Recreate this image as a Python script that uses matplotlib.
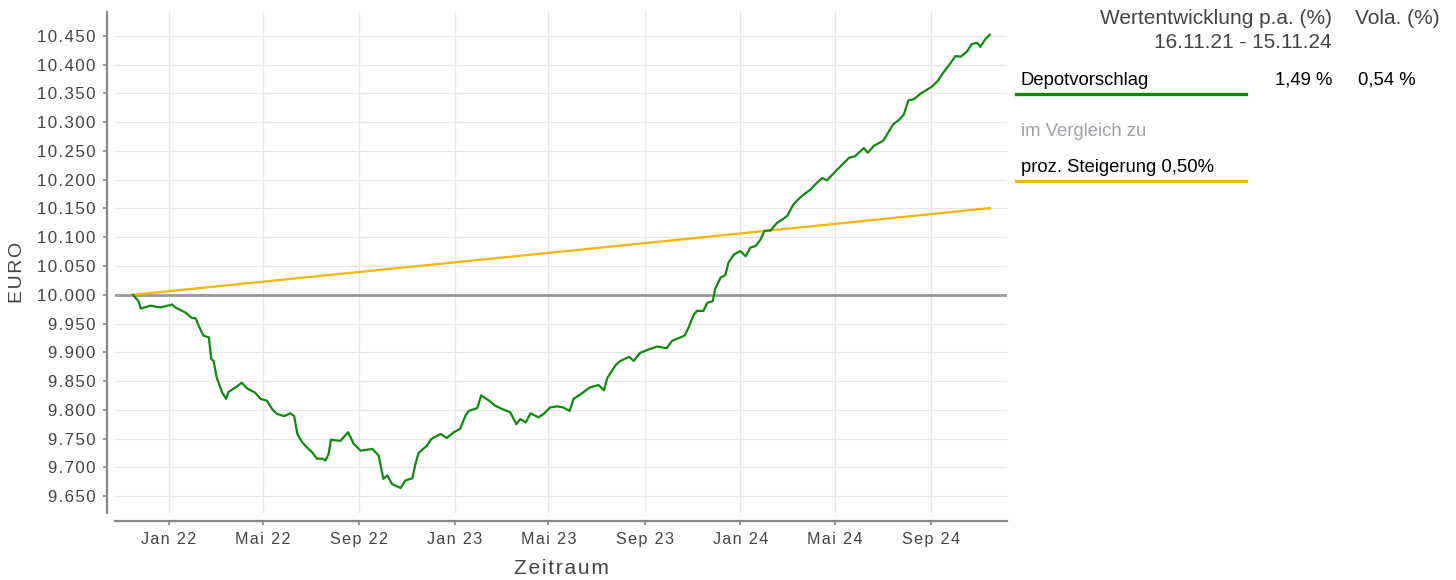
import numpy as np
import pandas as pd
import matplotlib
matplotlib.use("Agg")
import matplotlib.pyplot as plt
from matplotlib.ticker import FuncFormatter

plt.rcParams['font.family'] = ['Liberation Sans', 'DejaVu Sans']

# ---------------------------------------------------------------
# Data
# ---------------------------------------------------------------
start_date = pd.Timestamp("2021-11-16")
end_date = pd.Timestamp("2024-11-15")

# days after start date
depot_days = [0, 3, 7, 10, 22, 35, 50, 54, 67, 75, 80, 86, 90, 97, 100, 103, 107, 114,
              119, 122, 131, 139, 146, 156, 163, 171, 178, 184, 193, 201, 206, 210, 216,
              222, 229, 235, 242, 246, 250, 253, 265, 275, 282, 291, 306, 314, 320, 325,
              331, 342, 348, 357, 361, 365, 376, 381, 393, 401, 410, 418, 425, 429, 440,
              445, 455, 463, 474, 482, 490, 495, 502, 508, 518, 525, 533, 542, 550, 558,
              563, 572, 584, 595, 602, 606, 617, 623, 634, 640, 648, 659, 670, 682, 689,
              705, 710, 717, 721, 729, 734, 741, 744, 751, 757, 761, 768, 776, 783, 789,
              796, 802, 807, 815, 823, 830, 836, 844, 851, 857, 866, 872, 881, 887, 896,
              904, 915, 923, 934, 939, 947, 959, 966, 972, 979, 985, 991, 998, 1006, 1013,
              1021, 1028, 1036, 1045, 1051, 1058, 1066, 1072, 1079, 1083, 1089, 1095]
depot_values = [10.000, 9.995, 9.989, 9.976, 9.981, 9.978, 9.983, 9.978, 9.969, 9.960,
                9.959, 9.940, 9.929, 9.926, 9.888, 9.885, 9.856, 9.830, 9.819, 9.831,
                9.839, 9.847, 9.837, 9.830, 9.819, 9.816, 9.801, 9.793, 9.789, 9.794,
                9.789, 9.758, 9.744, 9.735, 9.726, 9.715, 9.715, 9.712, 9.723, 9.748,
                9.746, 9.761, 9.741, 9.729, 9.732, 9.720, 9.680, 9.686, 9.671, 9.664,
                9.677, 9.681, 9.706, 9.725, 9.738, 9.749, 9.758, 9.751, 9.761, 9.767,
                9.790, 9.798, 9.803, 9.825, 9.816, 9.807, 9.800, 9.796, 9.775, 9.784,
                9.778, 9.794, 9.787, 9.793, 9.804, 9.806, 9.804, 9.798, 9.819, 9.827,
                9.839, 9.843, 9.834, 9.855, 9.878, 9.885, 9.892, 9.885, 9.899, 9.905,
                9.910, 9.907, 9.920, 9.929, 9.943, 9.966, 9.972, 9.972, 9.986, 9.989,
                10.010, 10.030, 10.034, 10.056, 10.070, 10.076, 10.067, 10.082, 10.085,
                10.096, 10.111, 10.112, 10.125, 10.131, 10.137, 10.157, 10.167, 10.174,
                10.183, 10.192, 10.203, 10.199, 10.212, 10.223, 10.238, 10.241, 10.255,
                10.247, 10.259, 10.268, 10.284, 10.297, 10.304, 10.313, 10.338, 10.340,
                10.349, 10.355, 10.362, 10.371, 10.387, 10.403, 10.415, 10.414, 10.423,
                10.436, 10.438, 10.431, 10.444, 10.452]

start_value = 10000
bench_rate = 0.005   # proz. Steigerung 0,50% p.a.

x_tick_labels = ["Jan 22", "Mai 22", "Sep 22", "Jan 23", "Mai 23", "Sep 23",
                 "Jan 24", "Mai 24", "Sep 24"]
x_tick_dates = ["2022-01-01", "2022-05-01", "2022-09-01", "2023-01-01", "2023-05-01",
                "2023-09-01", "2024-01-01", "2024-05-01", "2024-09-01"]
y_ticks = [9.65, 9.70, 9.75, 9.80, 9.85, 9.90, 9.95, 10.00, 10.05, 10.10, 10.15,
           10.20, 10.25, 10.30, 10.35, 10.40, 10.45]

depot_dates = start_date + pd.to_timedelta(depot_days, unit="D")
depot_euro = np.array(depot_values) * 1000

bench_dates = pd.date_range(start_date, end_date, freq="D")
bench_years = (bench_dates - start_date).days / 365.25
bench_euro = start_value * (1 + bench_rate) ** bench_years

# ---------------------------------------------------------------
# Plot
# ---------------------------------------------------------------
W, H = 1456, 580
fig = plt.figure(figsize=(W / 100, H / 100), dpi=100)
ax = fig.add_axes([115 / W, 1 - 513 / H, (1007 - 115) / W, (513 - 12) / H])

GREEN = "#0f8a0f"
ORANGE = "#f7b500"
TXT = "#444444"


def spaced(s):
    return "\u200a".join(s)


ax.axhline(start_value, color="#999999", lw=2.0, zorder=2)
ax.plot(bench_dates, bench_euro, color=ORANGE, lw=1.6, zorder=3)
ax.plot(depot_dates, depot_euro, color=GREEN, lw=1.6, zorder=4)

ax.set_xlim(pd.Timestamp("2021-10-24"), pd.Timestamp("2024-12-07"))
ax.set_ylim(9620.6, 10491.6)

ax.set_yticks([v * 1000 for v in y_ticks])
ax.yaxis.set_major_formatter(FuncFormatter(
    lambda v, p: spaced(f"{v:,.0f}".replace(",", "."))))
ax.set_xticks(pd.to_datetime(x_tick_dates))
ax.set_xticklabels([spaced(t) for t in x_tick_labels])

ax.grid(True, color="#e6e6e6", lw=0.9, zorder=0)
ax.set_axisbelow(True)
for side in ["top", "right"]:
    ax.spines[side].set_visible(False)
for side in ["left", "bottom"]:
    ax.spines[side].set_color("#888888")
    ax.spines[side].set_linewidth(1.6)
    ax.spines[side].set_position(("outward", 6))

ax.tick_params(axis="both", colors="#888888", length=3, width=1.2,
               labelcolor=TXT, pad=5)
ax.tick_params(axis="y", labelsize=12.2)
ax.tick_params(axis="x", labelsize=11.6)

ax.set_ylabel(spaced("EURO"), fontsize=14, color=TXT, labelpad=8)
ax.yaxis.set_label_coords(-0.1, 0.481)
ax.set_xlabel(spaced("Zeitraum"), fontsize=15, color=TXT, labelpad=8)


# ---------------------------------------------------------------
# Legend / table on the right
# ---------------------------------------------------------------
def fx(px):
    return px / W


def fy(py):
    return 1 - py / H


fig.text(fx(1332), fy(19), "Wertentwicklung p.a. (%)", ha="right", va="center",
         fontsize=15, color=TXT)
fig.text(fx(1440), fy(19), "Vola. (%)", ha="right", va="center",
         fontsize=15, color=TXT)
fig.text(fx(1332), fy(43), "16.11.21 - 15.11.24", ha="right", va="center",
         fontsize=15, color=TXT)

fig.text(fx(1021), fy(80), "Depotvorschlag", ha="left", va="center",
         fontsize=13.3, color="black")
fig.text(fx(1332), fy(80), "1,49 %", ha="right", va="center", fontsize=13.3, color="black")
fig.text(fx(1416), fy(80), "0,54 %", ha="right", va="center", fontsize=13.3, color="black")
fig.add_artist(plt.Line2D([fx(1016), fx(1246)], [fy(94), fy(94)], color=GREEN,
                          lw=2.4, transform=fig.transFigure))

fig.text(fx(1021), fy(132), "im Vergleich zu", ha="left", va="center",
         fontsize=13.3, color="#a0a2a8")
fig.text(fx(1021), fy(167), "proz. Steigerung 0,50%", ha="left", va="center",
         fontsize=13.3, color="black")
fig.add_artist(plt.Line2D([fx(1016), fx(1246)], [fy(181), fy(181)], color=ORANGE,
                          lw=2.4, transform=fig.transFigure))

fig.savefig("out.png", dpi=100)
